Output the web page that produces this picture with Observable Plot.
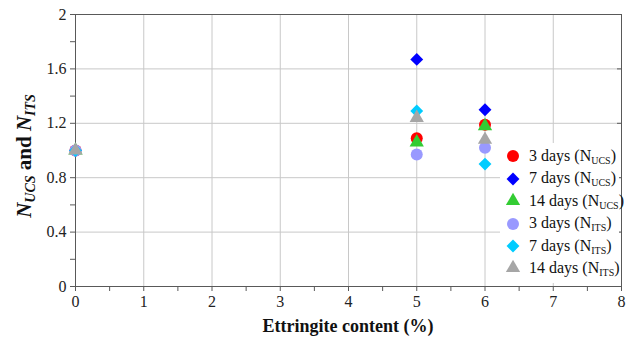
<!DOCTYPE html>
<html><head>
<meta charset="utf-8">
<script src="https://cdn.jsdelivr.net/npm/d3@7"></script>
<script src="https://cdn.jsdelivr.net/npm/@observablehq/plot@0.6"></script>
<style>
body{margin:0;background:#fff}
#wrap{position:relative;width:629px;height:341px;font-family:"Liberation Serif","Times New Roman",serif}
#wrap svg text{font-family:"Liberation Serif","Times New Roman",serif !important}
#legend{position:absolute;left:500px;top:143px;width:119px;height:140px;background:#fff}
.row{position:absolute;left:0;height:22px;display:flex;align-items:center;font-size:16px;color:#111;white-space:nowrap;font-family:"Liberation Serif","Times New Roman",serif}
.row svg{width:24px;height:22px;margin-left:1px;margin-right:4px}
.row sub{font-size:10px;vertical-align:-3px}
</style>
</head><body><div id="wrap"></div>
<script>
// Data
const content = [0, 5, 6];
const seriesDays = ["3 days", "7 days", "14 days", "3 days", "7 days", "14 days"];
const seriesSub = ["UCS", "UCS", "UCS", "ITS", "ITS", "ITS"];
const ucs3 = [1.00, 1.09, 1.19];
const ucs7 = [1.00, 1.67, 1.30];
const ucs14 = [1.00, 1.06, 1.18];
const its3 = [1.00, 0.97, 1.02];
const its7 = [1.00, 1.29, 0.90];
const its14 = [1.00, 1.24, 1.08];
const xTicks = [0, 1, 2, 3, 4, 5, 6, 7, 8];
const xMinorTicks = [0.5, 1.5, 2.5, 3.5, 4.5, 5.5, 6.5, 7.5];
const yTicks = [0, 0.4, 0.8, 1.2, 1.6, 2];
const yMinorTicks = [0.2, 0.6, 1.0, 1.4, 1.8];
const xGrid = [1, 2, 3, 4, 5, 6, 7];
const yGrid = [0.4, 0.8, 1.2, 1.6];

// Styles
const colors = ["#ff0000", "#0000ff", "#33cc33", "#9999ff", "#00ccff", "#a6a6a6"];
const symbols = ["circle", "diamond2", "triangle", "circle", "diamond2", "triangle"];
const radii = [6, 5.8, 5.3, 6, 5.8, 5.3];

const allValues = [ucs3, ucs7, ucs14, its3, its7, its14];
const rows = [];
allValues.forEach((vals, s) => vals.forEach((v, i) => rows.push({x: content[i], y: v, s})));

const dotMarks = allValues.map((vals, s) =>
  Plot.dot(rows.filter(r => r.s === s), {x: "x", y: "y", fill: colors[s], symbol: symbols[s], r: radii[s], stroke: "none"})
);

const tickColor = "#595959";
const plot = Plot.plot({
  width: 629, height: 341,
  marginLeft: 75, marginRight: 8, marginTop: 14, marginBottom: 55,
  x: {domain: [0, 8]},
  y: {domain: [0, 2]},
  style: {fontFamily: "Liberation Serif", fontSize: "16px", background: "white", color: "#222"},
  marks: [
    Plot.ruleX(xGrid, {stroke: "#c8c8c8", strokeWidth: 1}),
    Plot.ruleY(yGrid, {stroke: "#c8c8c8", strokeWidth: 1}),
    Plot.frame({stroke: tickColor, strokeWidth: 1}),
    Plot.axisX({ticks: xTicks, tickSize: 5, tickPadding: 4, stroke: tickColor, fill: "#222", label: null, tickFormat: d => String(d)}),
    Plot.axisX({ticks: xMinorTicks, tickSize: 5, stroke: tickColor, tickFormat: () => "", label: null}),
    Plot.axisY({ticks: yTicks, tickSize: 5, tickPadding: 4, stroke: tickColor, fill: "#222", label: null, tickFormat: d => d === 0 || d === 2 ? String(d) : d.toFixed(1)}),
    Plot.axisY({ticks: yMinorTicks, tickSize: 5, stroke: tickColor, tickFormat: () => "", label: null}),
    Plot.axisY({anchor: "right", ticks: yTicks, tickSize: 5, dx: -5, stroke: tickColor, tickFormat: () => "", label: null}),
    ...dotMarks
  ]
});

const wrap = document.getElementById("wrap");
wrap.appendChild(plot);

// Axis titles
const svg = d3.select(plot);
svg.selectAll("text").style("font-family", '"Liberation Serif", serif').attr("font-family", "Liberation Serif");
svg.append("text")
  .attr("x", 348).attr("y", 332)
  .attr("text-anchor", "middle")
  .attr("font-family", "Liberation Serif").attr("font-weight", "bold").attr("font-size", 18)
  .attr("fill", "#111")
  .text("Ettringite content (%)");

const yl = svg.append("text")
  .attr("transform", "translate(31,156) rotate(-90)")
  .attr("text-anchor", "middle")
  .attr("font-family", "Liberation Serif").attr("font-weight", "bold").attr("font-size", 21)
  .attr("fill", "#111");
yl.append("tspan").attr("font-style", "italic").text("N");
yl.append("tspan").attr("font-style", "italic").attr("font-size", 14).attr("dy", 4).text("UCS");
yl.append("tspan").attr("dy", -4).text(" and ");
yl.append("tspan").attr("font-style", "italic").text("N");
yl.append("tspan").attr("font-style", "italic").attr("font-size", 14).attr("dy", 4).text("ITS");

// Legend
const symbolTypes = {circle: d3.symbolCircle, diamond2: d3.symbolDiamond2, triangle: d3.symbolTriangle};
const legend = document.createElement("div");
legend.id = "legend";
wrap.appendChild(legend);
const rowTops = [2, 24.5, 47, 69.5, 92, 114];
seriesDays.forEach((days, s) => {
  const row = document.createElement("div");
  row.className = "row";
  row.style.top = rowTops[s] + "px";
  const path = d3.symbol(symbolTypes[symbols[s]], Math.PI * radii[s] * radii[s])();
  row.innerHTML = `<svg viewBox="-12 -11 24 22"><path d="${path}" fill="${colors[s]}"></path></svg><span>${days} (N<sub>${seriesSub[s]}</sub>)</span>`;
  legend.appendChild(row);
});
</script>
</body></html>
